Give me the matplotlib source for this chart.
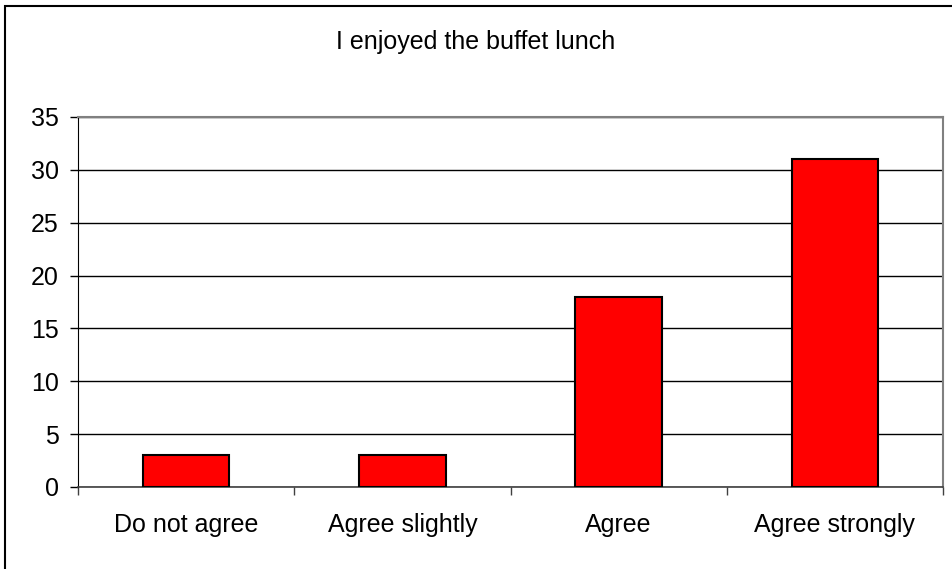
import matplotlib.pyplot as plt
import numpy as np
from matplotlib.patches import Rectangle

plt.rcParams['font.family'] = ['Liberation Sans', 'DejaVu Sans']

# Survey answers
categories = ['Do not agree', 'Agree slightly', 'Agree', 'Agree strongly']
counts = [3, 3, 18, 31]
yticks = [0, 5, 10, 15, 20, 25, 30, 35]

fig = plt.figure(figsize=(9.52, 5.69), dpi=100)
ax = fig.add_axes([78 / 952, 1 - 487 / 569, 865 / 952, 370 / 569])

x = np.arange(len(categories))
ax.bar(x, counts, width=0.4, color='#ff0000', edgecolor='black', linewidth=1.5, zorder=3)

ax.set_xlim(-0.5, len(categories) - 0.5)
ax.set_ylim(0, 35)
ax.set_yticks(yticks)
ax.tick_params(axis='y', labelsize=18, length=5.5, width=1, pad=8.5, direction='out')

# labels at bar centres, tick marks between categories
ax.set_xticks(x)
ax.set_xticklabels(categories)
ax.tick_params(axis='x', which='major', labelsize=18, length=0, pad=19)
ax.set_xticks(np.arange(-0.5, len(categories), 1), minor=True)
ax.tick_params(axis='x', which='minor', length=5.5, width=1, direction='out', color='#404040')

ax.grid(axis='y', color='black', linewidth=1, zorder=0)
ax.set_axisbelow(True)

for side in ['top', 'right']:
    ax.spines[side].set_color('#808080')
    ax.spines[side].set_linewidth(1.5)
ax.spines['left'].set_color('black')
ax.spines['bottom'].set_color('#404040')
ax.spines['bottom'].set_linewidth(1.2)

fig.text(0.5, 1 - 42 / 569, 'I enjoyed the buffet lunch', ha='center', va='center', fontsize=18)

# chart border
fig.patches.append(Rectangle((5 / 952, -0.1), 1.2, 1 - 6.5 / 569 + 0.1, transform=fig.transFigure,
                             fill=False, edgecolor='black', linewidth=1.5))

fig.savefig('out.png', dpi=100)
